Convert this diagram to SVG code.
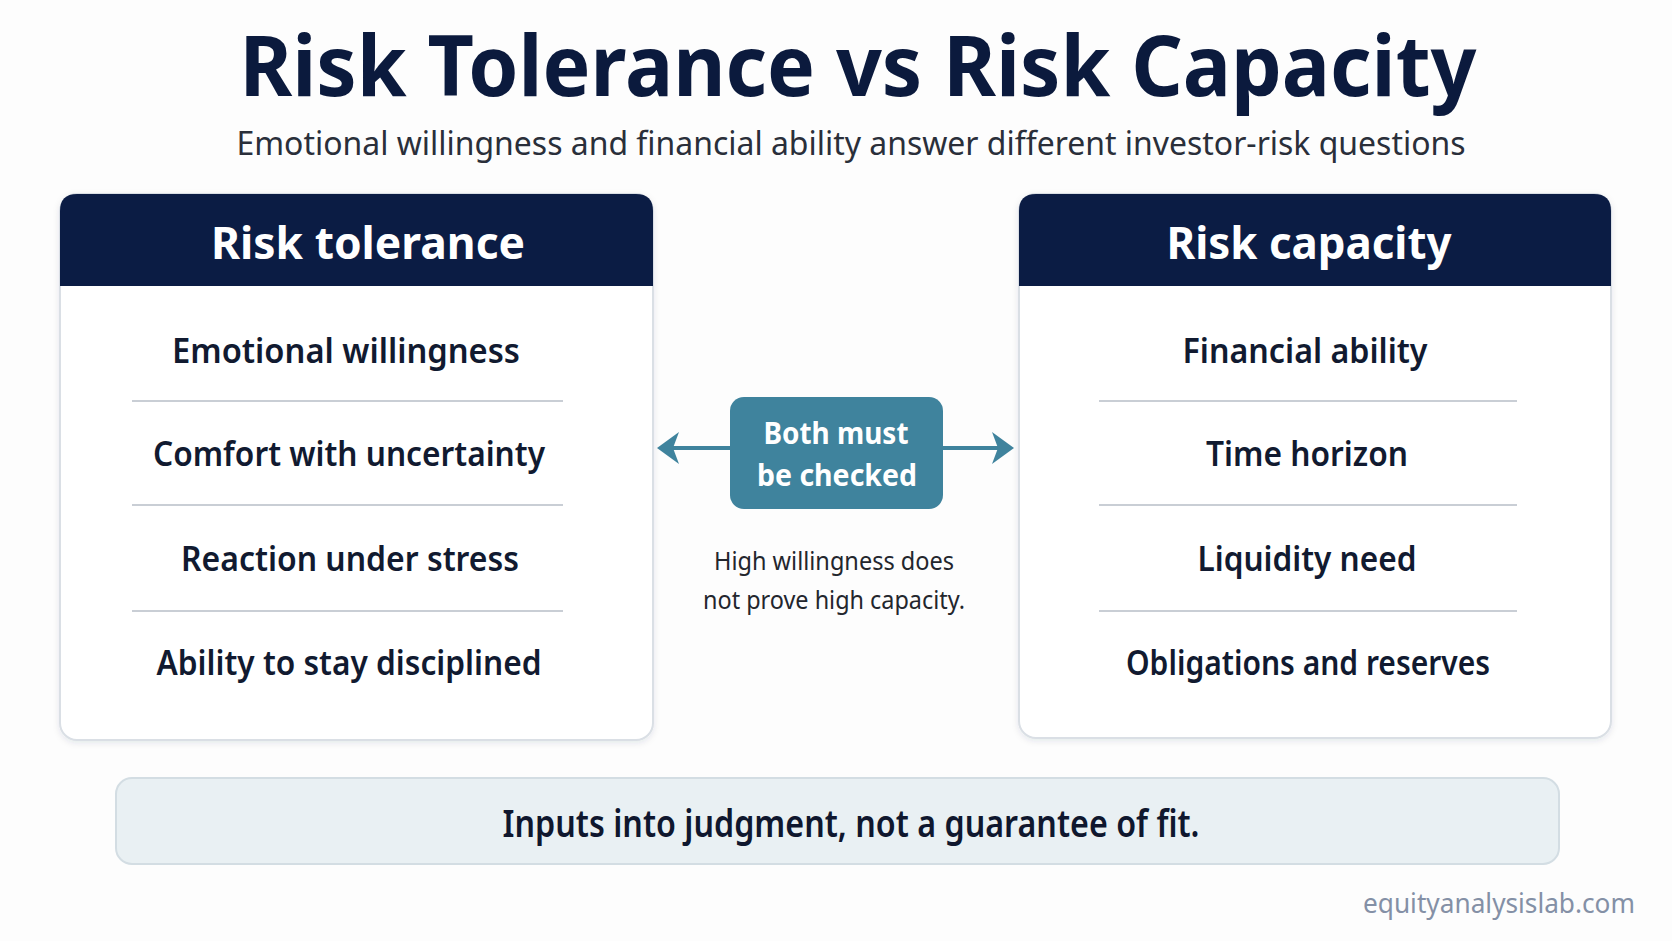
<svg xmlns="http://www.w3.org/2000/svg" width="1672" height="941" viewBox="0 0 1672 941">
  <defs>
    <filter id="shadow" x="-5%" y="-5%" width="110%" height="110%">
      <feDropShadow dx="0" dy="2" stdDeviation="3" flood-color="#1b2a44" flood-opacity="0.10"/>
    </filter>
    <style>
      .title{font-family:"Noto Sans","Liberation Sans",sans-serif;font-weight:700;fill:#0b1a3d;text-anchor:middle}
      .sub{font-family:"Noto Sans","Liberation Sans",sans-serif;font-weight:400;fill:#2a2f3a;text-anchor:middle}
      .card{fill:#ffffff;stroke:#dadfe5;stroke-width:2}
      .band{fill:#0b1c44}
      .head{font-family:"Noto Sans","Liberation Sans",sans-serif;font-weight:700;fill:#ffffff;text-anchor:middle;font-size:44px}
      .item{font-family:"Noto Sans","Liberation Sans",sans-serif;font-weight:600;fill:#111a30;text-anchor:middle;font-size:35px}
      .div{stroke:#c9ced5;stroke-width:2}
      .hub{fill:#3f839d}
      .hubt{font-family:"Noto Sans","Liberation Sans",sans-serif;font-weight:700;fill:#ffffff;text-anchor:middle;font-size:31px}
      .note{font-family:"Noto Sans","Liberation Sans",sans-serif;font-weight:400;fill:#23262d;text-anchor:middle;font-size:25px}
      .conn{stroke:#3f839d;stroke-width:4;fill:none}
      .head-arrow{fill:#3f839d}
      .foot{fill:#e9f0f3;stroke:#d3dde3;stroke-width:2}
      .foott{font-family:"Noto Sans","Liberation Sans",sans-serif;font-weight:600;fill:#0f172e;text-anchor:middle;font-size:38px}
      .brand{font-family:"Noto Sans","Liberation Sans",sans-serif;font-weight:400;fill:#8490a6;font-size:28px}
    </style>
  </defs>
  <rect width="1672" height="941" fill="#fdfdfd"/>

  <g id="title">
    <text class="title" x="858" y="96" font-size="84" textLength="1237" lengthAdjust="spacingAndGlyphs">Risk Tolerance vs Risk Capacity</text>
    <text class="sub" x="851" y="155" font-size="33" textLength="1229" lengthAdjust="spacingAndGlyphs">Emotional willingness and financial ability answer different investor-risk questions</text>
  </g>

  <g id="risk-tolerance">
    <rect class="card" x="60" y="194" width="593" height="546" rx="17" filter="url(#shadow)"/>
    <path class="band" d="M60,286 V211 Q60,194 77,194 H636 Q653,194 653,211 V286 Z"/>
    <text class="head" x="368" y="259" textLength="314" lengthAdjust="spacingAndGlyphs">Risk tolerance</text>
    <text class="item" x="346" y="363" textLength="348" lengthAdjust="spacingAndGlyphs">Emotional willingness</text>
    <line class="div" x1="132" y1="401" x2="563" y2="401"/>
    <text class="item" x="349" y="466" textLength="392" lengthAdjust="spacingAndGlyphs">Comfort with uncertainty</text>
    <line class="div" x1="132" y1="505" x2="563" y2="505"/>
    <text class="item" x="350" y="571" textLength="338" lengthAdjust="spacingAndGlyphs">Reaction under stress</text>
    <line class="div" x1="132" y1="611" x2="563" y2="611"/>
    <text class="item" x="349" y="675" textLength="385" lengthAdjust="spacingAndGlyphs">Ability to stay disciplined</text>
  </g>

  <g id="risk-capacity">
    <rect class="card" x="1019" y="194" width="592" height="544" rx="17" filter="url(#shadow)"/>
    <path class="band" d="M1019,286 V211 Q1019,194 1036,194 H1594 Q1611,194 1611,211 V286 Z"/>
    <text class="head" x="1309" y="259" textLength="285" lengthAdjust="spacingAndGlyphs">Risk capacity</text>
    <text class="item" x="1305" y="363" textLength="245" lengthAdjust="spacingAndGlyphs">Financial ability</text>
    <line class="div" x1="1099" y1="401" x2="1517" y2="401"/>
    <text class="item" x="1307" y="466" textLength="202" lengthAdjust="spacingAndGlyphs">Time horizon</text>
    <line class="div" x1="1099" y1="505" x2="1517" y2="505"/>
    <text class="item" x="1307" y="571" textLength="219" lengthAdjust="spacingAndGlyphs">Liquidity need</text>
    <line class="div" x1="1099" y1="611" x2="1517" y2="611"/>
    <text class="item" x="1308" y="675" textLength="364" lengthAdjust="spacingAndGlyphs">Obligations and reserves</text>
  </g>

  <g id="connectors">
    <line class="conn" x1="730" y1="448" x2="672" y2="448"/>
    <polygon class="head-arrow" points="657,448 679,432 673,448 679,464"/>
    <line class="conn" x1="943" y1="448" x2="999" y2="448"/>
    <polygon class="head-arrow" points="1014,448 992,432 998,448 992,464"/>
  </g>

  <g id="both-must-be-checked">
    <rect class="hub" x="730" y="397" width="213" height="112" rx="14"/>
    <text class="hubt" x="836" y="444" textLength="145" lengthAdjust="spacingAndGlyphs">Both must</text>
    <text class="hubt" x="837" y="486" textLength="160" lengthAdjust="spacingAndGlyphs">be checked</text>
  </g>

  <g id="note">
    <text class="note" x="834" y="570" textLength="240" lengthAdjust="spacingAndGlyphs">High willingness does</text>
    <text class="note" x="834" y="609" textLength="262" lengthAdjust="spacingAndGlyphs">not prove high capacity.</text>
  </g>

  <g id="summary">
    <rect class="foot" x="116" y="778" width="1443" height="86" rx="16"/>
    <text class="foott" x="851" y="837" textLength="697" lengthAdjust="spacingAndGlyphs">Inputs into judgment, not a guarantee of fit.</text>
  </g>

  <g id="brand">
    <text class="brand" x="1363" y="913" textLength="272" lengthAdjust="spacingAndGlyphs">equityanalysislab.com</text>
  </g>
</svg>
